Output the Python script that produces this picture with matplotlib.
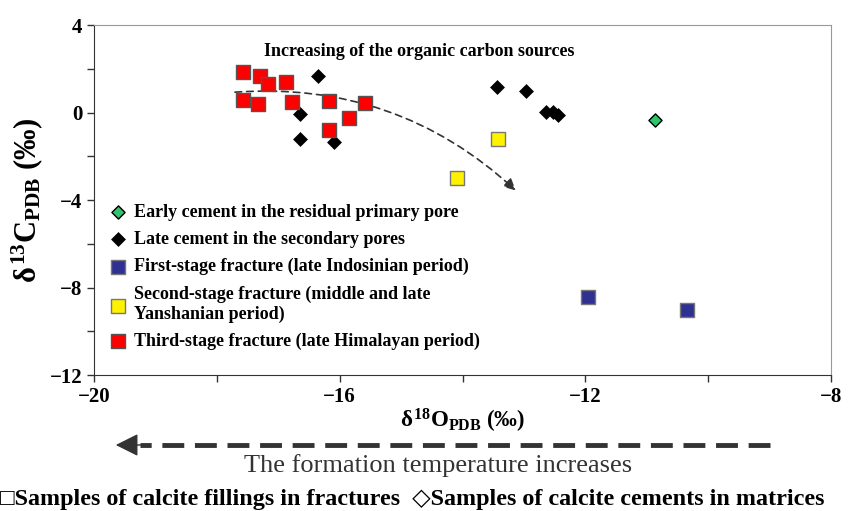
import matplotlib
matplotlib.use("Agg")
import matplotlib.pyplot as plt
from matplotlib.patches import FancyArrowPatch
from matplotlib.lines import Line2D

plt.rcParams['font.family'] = ['Liberation Serif', 'DejaVu Serif']
plt.rcParams['font.weight'] = 'bold'
plt.rcParams['axes.labelweight'] = 'bold'
plt.rcParams['mathtext.fontset'] = 'custom'
plt.rcParams['mathtext.rm'] = 'Liberation Serif:bold'
plt.rcParams['mathtext.it'] = 'Liberation Serif:bold'
plt.rcParams['mathtext.bf'] = 'Liberation Serif:bold'

# data (delta18O, delta13C)
early_o = [-10.86]
early_c = [-0.34]

late_o = [-16.36, -16.65, -16.65, -16.09, -13.44, -12.96, -12.64, -12.53, -12.44]
late_c = [1.68, -0.07, -1.23, -1.35, 1.15, 0.98, 0.04, 0.04, -0.11]

first_o = [-11.95, -10.35]
first_c = [-8.45, -9.05]

second_o = [-13.42, -14.09]
second_c = [-1.20, -3.01]

third_o = [-17.57, -17.30, -17.17, -16.87, -17.58, -17.33, -16.77, -16.18, -15.59, -15.85, -16.17]
third_c = [1.87, 1.67, 1.30, 1.38, 0.57, 0.39, 0.49, 0.53, 0.42, -0.27, -0.80]

labels = ["Early cement in the residual primary pore",
          "Late cement in the secondary pores",
          "First-stage fracture (late Indosinian period)",
          "Second-stage fracture (middle and late\nYanshanian period)",
          "Third-stage fracture (late Himalayan period)"]

fig = plt.figure(figsize=(8.48, 5.11), dpi=100)
ax = fig.add_axes([94 / 848, 1 - 375 / 511, 737 / 848, 350 / 511])

ax.scatter(early_o, early_c, marker='D', s=45, c='#2FC36B', edgecolors='black', linewidths=1, label=labels[0], zorder=3)
ax.scatter(late_o, late_c, marker='D', s=50, c='black', edgecolors='black', linewidths=0.5, label=labels[1], zorder=3)
ax.scatter(first_o, first_c, marker='s', s=100, c='#2E3192', edgecolors='#777777', linewidths=1, label=labels[2], zorder=3)
ax.scatter(second_o, second_c, marker='s', s=100, c='#FFF200', edgecolors='#777777', linewidths=1, label=labels[3], zorder=3)
ax.scatter(third_o, third_c, marker='s', s=100, c='#FF0000', edgecolors='#555555', linewidths=1, label=labels[4], zorder=3)

# curved trend arrow
arr = FancyArrowPatch((-17.75, 0.92), (-13.1, -3.65), connectionstyle='arc3,rad=-0.22',
                      arrowstyle='-|>,head_length=7,head_width=3.5', linestyle=(0, (4, 3)),
                      color='#333333', lw=1.2, zorder=2)
ax.add_patch(arr)
ax.text(-14.71, 2.81, "Increasing of the organic carbon sources", ha='center', va='center', fontsize=13)

ax.set_xlim(-20, -8)
ax.set_ylim(-12, 4)
ax.set_xticks(range(-20, -7, 2))
ax.set_xticklabels(['\u221220', '', '\u221216', '', '\u221212', '', '\u22128'])
ax.set_yticks(range(-12, 5, 2))
ax.set_yticklabels(['\u221212', '', '\u22128', '', '\u22124', '', '0', '', '4'])
ax.tick_params(direction='out', length=5, width=1, labelsize=15, color='#333333')
ax.spines['top'].set_color('#999999')
ax.spines['right'].set_color('#999999')
ax.spines['left'].set_color('#333333')
ax.spines['bottom'].set_color('#333333')

ax.set_xlabel(r'$\delta^{18}$O$_{\rm PDB}$ (‰)', fontsize=16.5, labelpad=0)
ax.set_ylabel(r'$\delta^{13}$C$_{\rm PDB}$ (‰)', fontsize=22, labelpad=3)

ax.legend(loc='upper left', bbox_to_anchor=(0.02, 0.488), frameon=False, fontsize=13,
          handletextpad=0.4, handlelength=1.0, labelspacing=0.55, borderpad=0, borderaxespad=0)

# temperature arrow under the axis
fig.add_artist(Line2D([770 / 848, 140 / 848], [1 - 445 / 511, 1 - 445 / 511],
                      transform=fig.transFigure, color='#333333', lw=3.5, linestyle=(0, (4.5, 2.2))))
fig.add_artist(FancyArrowPatch((145 / 848, 1 - 445 / 511), (113 / 848, 1 - 445 / 511),
                               transform=fig.transFigure, arrowstyle='-|>,head_length=14,head_width=7',
                               color='#333333', lw=1))
fig.text(438 / 848, 1 - 466 / 511, "The formation temperature increases", ha='center', va='center',
         fontsize=19, fontweight='normal', color='#333333')
fig.text(0.0, 1 - 499 / 511, "\u25a1Samples of calcite fillings in fractures  \u25c7Samples of calcite cements in matrices",
         ha='left', va='center', fontsize=17.4, family=['Liberation Serif', 'DejaVu Sans'])

fig.savefig('out.png', dpi=100)
